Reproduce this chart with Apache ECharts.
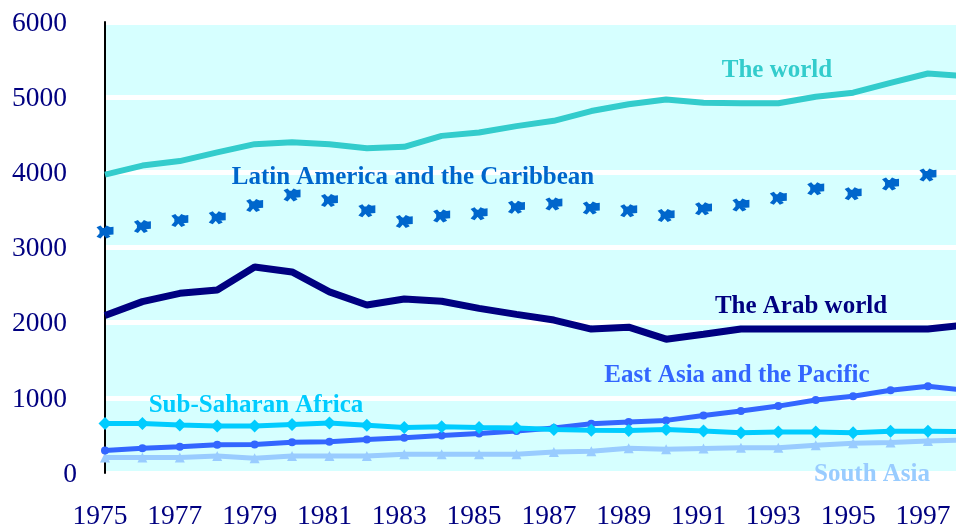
<!DOCTYPE html>
<html>
<head>
<meta charset="utf-8">
<script src="https://cdn.jsdelivr.net/npm/echarts@6/dist/echarts.min.js"></script>
<style>
  html, body { margin: 0; padding: 0; background: #fff; }
  #chart { width: 956px; height: 531px; }
</style>
</head>
<body>
<div id="chart"></div>
<script>
// years 1975..1998 (1998 runs off the right edge in the original)
const years = [1975, 1976, 1977, 1978, 1979, 1980, 1981, 1982, 1983, 1984, 1985, 1986,
               1987, 1988, 1989, 1990, 1991, 1992, 1993, 1994, 1995, 1996, 1997, 1998];

const theWorld = [3970, 4090, 4150, 4265, 4375, 4400, 4375, 4320, 4340, 4485, 4530, 4615,
                  4685, 4815, 4905, 4970, 4925, 4920, 4920, 5005, 5060, 5190, 5315, 5280];
const latinAmerica = [3205, 3280, 3360, 3395, 3560, 3700, 3625, 3490, 3345, 3420, 3450, 3535,
                      3580, 3525, 3490, 3425, 3515, 3565, 3655, 3780, 3715, 3845, 3965, 3990];
const arabWorld = [2095, 2280, 2390, 2435, 2740, 2675, 2410, 2235, 2315, 2285, 2190, 2110,
                   2035, 1915, 1940, 1780, 1845, 1915, 1915, 1915, 1915, 1915, 1915, 1970];
const eastAsia = [300, 330, 350, 375, 380, 410, 415, 445, 470, 500, 525, 560,
                  600, 655, 680, 700, 765, 825, 890, 970, 1020, 1100, 1155, 1100];
const subSaharan = [660, 660, 640, 625, 625, 645, 665, 635, 605, 615, 605, 600,
                    580, 570, 565, 580, 560, 535, 545, 545, 535, 555, 555, 550];
const southAsia = [205, 205, 205, 225, 195, 225, 225, 225, 250, 250, 250, 250,
                   280, 290, 330, 315, 325, 335, 335, 370, 395, 405, 425, 440];

const yTicks = [0, 1000, 2000, 3000, 4000, 5000, 6000];

const navy = '#000080';
const serif = 'Liberation Serif';

// x is years since 1975 so ticks every 2 years start from a multiple of the interval
const pts = (arr) => arr.map((v, i) => [years[i] - years[0], v]);

// chunky asterisk with a short dash, like the Excel marker
const latinSymbol = 'path://M0,1.5 L4,0 L14,9.5 L10,11 Z M0,9.5 L10,0 L14,1.5 L4,11 Z M3,2.5 L17,1 L17,7.5 L3,8.5 Z';

const chart = echarts.init(document.getElementById('chart'), null, { renderer: 'canvas' });

const option = {
    animation: false,
    backgroundColor: '#ffffff',
    grid: {
        left: 105,
        right: 0,
        top: 22,
        bottom: 55.5,
        show: true,
        backgroundColor: '#d6ffff',
        borderWidth: 0
    },
    xAxis: {
        type: 'value',
        min: 0,
        max: 22.75,
        interval: 2,
        axisLine: { show: false },
        axisTick: { show: false },
        splitLine: { show: false },
        axisLabel: {
            margin: 30,
            fontFamily: serif,
            fontSize: 27.5,
            color: navy,
            padding: [0, 10, 0, 0],
            showMaxLabel: false,
            formatter: (v) => (Number.isInteger(v) ? String(years[0] + v) : '')
        }
    },
    yAxis: {
        type: 'value',
        min: yTicks[0],
        max: yTicks[yTicks.length - 1],
        interval: 1000,
        axisLine: { show: true, lineStyle: { color: '#000', width: 2 } },
        axisTick: { show: false },
        splitLine: { show: true, lineStyle: { color: '#ffffff', width: 5 } },
        axisLabel: {
            margin: 28,
            color: navy,
            formatter: (v) => (v === 0 ? '{z|0}' : '{n|' + v + '}'),
            rich: {
                n: { fontFamily: serif, fontSize: 27.5, color: navy, padding: [3, 10, 0, 0] },
                z: { fontFamily: serif, fontSize: 27.5, color: navy, padding: [4, 0, 0, 0] }
            }
        }
    },
    series: [
        {
            name: 'South Asia',
            type: 'line',
            data: pts(southAsia),
            symbol: 'triangle',
            symbolSize: 10,
            lineStyle: { color: '#99ccff', width: 5 },
            itemStyle: { color: '#99ccff' }
        },
        {
            name: 'East Asia and the Pacific',
            type: 'line',
            data: pts(eastAsia),
            symbol: 'circle',
            symbolSize: 8,
            lineStyle: { color: '#3366ff', width: 5 },
            itemStyle: { color: '#3366ff' }
        },
        {
            name: 'Sub-Saharan Africa',
            type: 'line',
            data: pts(subSaharan),
            symbol: 'diamond',
            symbolSize: 13,
            lineStyle: { color: '#00ccff', width: 5 },
            itemStyle: { color: '#00ccff' }
        },
        {
            name: 'The Arab world',
            type: 'line',
            data: pts(arabWorld),
            showSymbol: false,
            lineStyle: { color: navy, width: 7 },
            itemStyle: { color: navy }
        },
        {
            name: 'Latin America and the Caribbean',
            type: 'line',
            data: pts(latinAmerica),
            symbol: latinSymbol,
            symbolSize: [17, 13],
            lineStyle: { opacity: 0 },
            itemStyle: { color: '#0066cc' }
        },
        {
            name: 'The world',
            type: 'line',
            data: pts(theWorld),
            showSymbol: false,
            lineStyle: { color: '#33cccc', width: 6 },
            itemStyle: { color: '#33cccc' }
        }
    ],
    graphic: [
        ['The world', 777, 71, '#33cccc'],
        ['Latin America and the Caribbean', 413, 178, '#0066cc'],
        ['The Arab world', 801, 307, navy],
        ['East Asia and the Pacific', 737, 376, '#3366ff'],
        ['Sub-Saharan Africa', 256, 406, '#00ccff'],
        ['South Asia', 872, 475, '#99ccff']
    ].map(([text, x, y, color]) => ({
        type: 'text',
        x: x,
        y: y,
        z: 100,
        style: {
            text: text,
            fill: color,
            font: 'bold 25px "Liberation Serif"',
            textAlign: 'center',
            textVerticalAlign: 'middle'
        }
    }))
};

chart.setOption(option);
</script>
</body>
</html>
